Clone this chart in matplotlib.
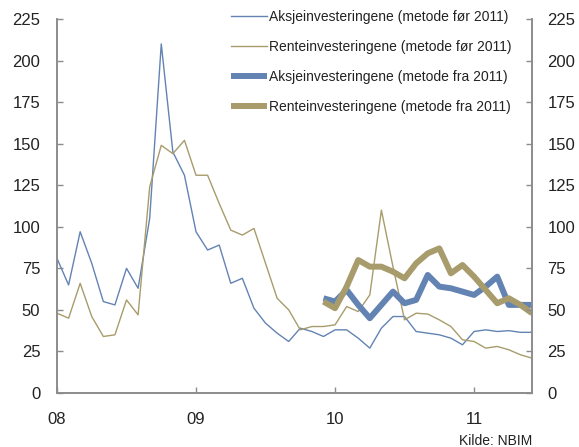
import matplotlib
matplotlib.use("Agg")
import matplotlib.pyplot as plt
import numpy as np

plt.rcParams["font.family"] = ["Liberation Sans", "DejaVu Sans"]

# months since Jan 2008
months_old = np.arange(0, 42)
aksje_for = [81, 65, 97, 78, 55, 53, 75, 63, 105, 210,
             145, 131, 97, 86, 89, 66, 69, 51, 42, 36,
             31, 39, 37, 34, 38, 38, 33, 27, 39, 46,
             46, 37, 36, 35, 33, 29, 37, 38, 37, 37.5,
             36.5, 36.5]
rente_for = [48, 45, 66, 46, 34, 35, 56, 47, 124, 149,
             144, 152, 131, 131, 114, 98, 95, 99, 78, 57,
             50, 38, 40, 40, 41, 52, 49, 59, 110, 76,
             44, 48, 47.5, 44, 40, 32, 31, 27, 28, 26,
             23, 21]

months_new = np.arange(23, 42)
aksje_fra = [57, 55, 62, 53, 45, 53, 61, 54, 56, 71,
             64, 63, 61, 59, 64, 70, 53, 53, 53]
rente_fra = [55, 51, 64, 80, 76, 76, 73, 69, 78, 84,
             87, 72, 77, 70, 62, 54, 57, 53, 48]

year_labels = ["08", "09", "10", "11"]
yticks = [0, 25, 50, 75, 100, 125, 150, 175, 200, 225]

blue = "#6383b3"
gold = "#a89c6c"
grey = "#8c8c8c"

fig = plt.figure(figsize=(5.79, 4.47), dpi=100)
ax = fig.add_axes([57 / 579, 1 - 393 / 447, (532 - 57) / 579, (393 - 19) / 447])

ax.plot(months_old, aksje_for, color=blue, lw=1.0,
        label="Aksjeinvesteringene (metode før 2011)")
ax.plot(months_old, rente_for, color=gold, lw=1.0,
        label="Renteinvesteringene (metode før 2011)")
ax.plot(months_new, aksje_fra, color=blue, lw=4.3, solid_capstyle="butt",
        label="Aksjeinvesteringene (metode fra 2011)")
ax.plot(months_new, rente_fra, color=gold, lw=4.3, solid_capstyle="butt",
        label="Renteinvesteringene (metode fra 2011)")

ax.set_xlim(0, 41)
ax.set_ylim(0, 225)
ax.set_xticks([0, 12, 24, 36])
ax.set_xticklabels(year_labels)
ax.set_yticks(yticks)

ax2 = ax.twinx()
ax2.set_ylim(0, 225)
ax2.set_yticks(yticks)

for a in (ax, ax2):
    a.spines["top"].set_visible(False)
    for s in ("left", "right", "bottom"):
        a.spines[s].set_color(grey)
        a.spines[s].set_linewidth(1.2)
    a.tick_params(direction="in", length=4, width=1, color=grey,
                  labelsize=12, labelcolor="#222222")
ax.tick_params(axis="y", pad=12)
ax.tick_params(axis="x", pad=14)
ax2.tick_params(axis="y", pad=11)

leg = ax.legend(loc="upper left", bbox_to_anchor=(168 / 475, 1.04), frameon=False,
                fontsize=10, handlelength=2.6, handletextpad=0.2,
                labelspacing=1.17, borderaxespad=0)
for t in leg.get_texts():
    t.set_color("#222222")

fig.text(532 / 579, 1 - 441 / 447, "Kilde: NBIM", ha="right", va="center",
         fontsize=10, color="#222222")

fig.savefig("out.png", dpi=100)
